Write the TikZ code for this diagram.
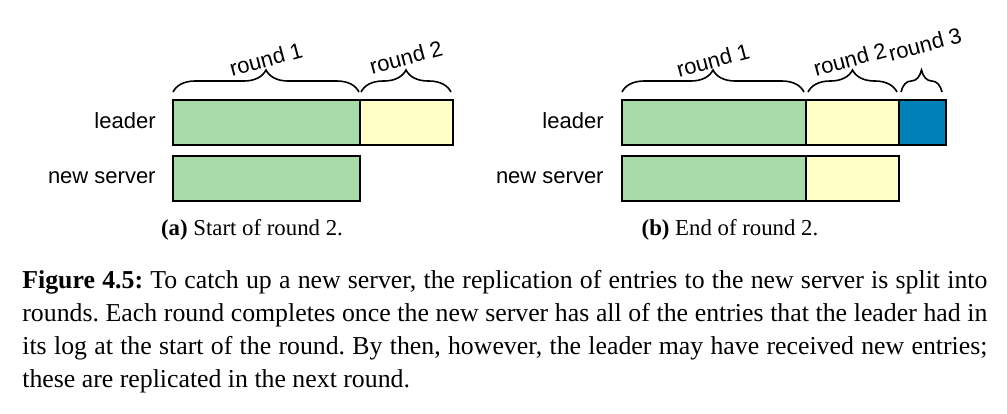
\documentclass[tikz,border=0pt]{standalone}
\usepackage{fontspec}
\setmainfont{Liberation Serif}
\setsansfont{Liberation Sans}
\usepackage{xcolor}
\usetikzlibrary{decorations.pathreplacing}

\definecolor{roundgreen}{HTML}{A8DBA8}
\definecolor{roundyellow}{HTML}{FFFFC6}
\definecolor{roundblue}{HTML}{0082B8}

\tikzset{
    entries/.style={draw=black, line width=1pt},
    rbrace/.style={decorate, decoration={brace, amplitude=11pt}, line width=0.8pt},
    serverlab/.style={font=\fontsize{11}{13}\sffamily, inner sep=0pt, anchor=east},
    roundlab/.style={font=\fontsize{11}{13}\sffamily, inner sep=0pt, rotate=15},
    sublab/.style={font=\fontsize{11.4}{14}\selectfont, inner sep=0pt, anchor=base},
}

\begin{document}
\begin{tikzpicture}[x=0.5pt, y=-0.5pt]
        \useasboundingbox (0, 0) rectangle (1007, 413);

        % (a) start of round 2
        \node[serverlab] (aleader) at (156, 121) {leader};
        \node[serverlab] (aserver) at (156, 178) {new server};

        \draw[entries, fill=roundgreen] (173, 99.5) rectangle (360, 144.5);
        \draw[entries, fill=roundyellow] (360, 99.5) rectangle (453, 144.5);
        \draw[entries, fill=roundgreen] (173, 156) rectangle (360, 201);

        \draw[rbrace] (173, 92) -- (359, 92);
        \draw[rbrace] (361, 92) -- (451, 92);
        \node[roundlab] (around1) at (266, 59) {round 1};
        \node[roundlab] (around2) at (406, 57) {round 2};

        \node[sublab] (acap) at (252, 235) {\textbf{(a)} Start of round 2.};

        %%%

        % (b) end of round 2
        \node[serverlab] (bleader) at (604, 121) {leader};
        \node[serverlab] (bserver) at (604, 178) {new server};

        \draw[entries, fill=roundgreen] (622, 99.5) rectangle (806, 144.5);
        \draw[entries, fill=roundyellow] (806, 99.5) rectangle (899, 144.5);
        \draw[entries, fill=roundblue] (899, 99.5) rectangle (946, 144.5);
        \draw[entries, fill=roundgreen] (622, 156) rectangle (806, 201);
        \draw[entries, fill=roundyellow] (806, 156) rectangle (899, 201);

        \draw[rbrace] (622, 92) -- (804, 92);
        \draw[rbrace] (808, 92) -- (897, 92);
        \draw[rbrace] (901, 92) -- (942, 92);
        \node[roundlab] (bround1) at (713, 60) {round 1};
        \node[roundlab] (bround2) at (850, 59) {round 2};
        \node[roundlab] (bround3) at (925, 44) {round 3};

        \node[sublab] (bcap) at (730, 235) {\textbf{(b)} End of round 2.};

        %%%

        \node[anchor=base west, inner sep=0pt, text width=482.5pt, align=justify,
              font=\fontsize{12.9}{16.5}\selectfont\frenchspacing] (figcap) at (22, 288)
            {\textbf{Figure 4.5:} To catch up a new server, the replication of entries to the new server is split into\linebreak
             rounds. Each round completes once the new server has all of the entries that the leader had in\linebreak
             its log at the start of the round. By then, however, the leader may have received new entries;\linebreak
             these are replicated in the next round.};
    \end{tikzpicture}
\end{document}
